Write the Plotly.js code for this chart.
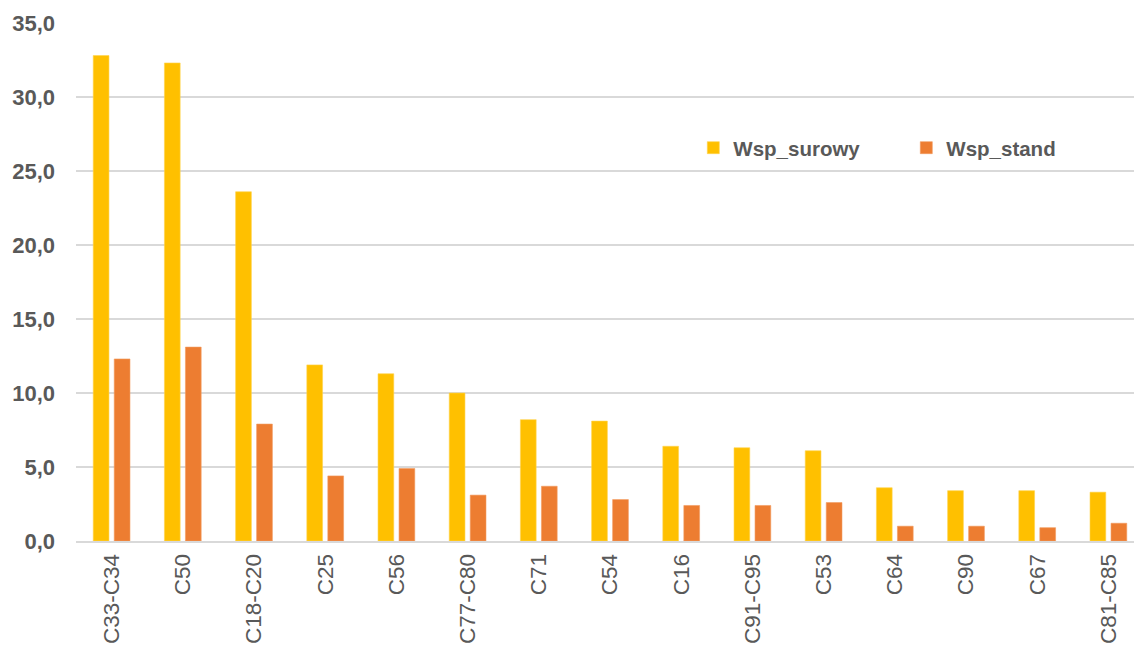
<!DOCTYPE html>
<html>
<head>
<meta charset="utf-8">
<script src="https://cdn.plot.ly/plotly-3.0.1.min.js"></script>
<style>
html,body{margin:0;padding:0;overflow:hidden;background:#fff;}
#chart{width:1144px;height:650px;}
</style>
</head>
<body>
<div id="chart"></div>
<script>
const categories = ["C33-C34","C50","C18-C20","C25","C56","C77-C80","C71","C54","C16","C91-C95","C53","C64","C90","C67","C81-C85"];
const wspSurowy = [32.8,32.3,23.6,11.9,11.3,10.0,8.2,8.1,6.4,6.3,6.1,3.6,3.4,3.4,3.3];
const wspStand  = [12.3,13.1,7.9,4.4,4.9,3.1,3.7,2.8,2.4,2.4,2.6,1.0,1.0,0.9,1.2];
const seriesNames = ["Wsp_surowy","Wsp_stand"];
const yTicks = [0,5,10,15,20,25,30,35];

const textColor = "#595959";
const traces = [
  {type:"bar", name:seriesNames[0], x:categories, y:wspSurowy,
   marker:{color:"#FFC000", line:{color:"#FFD34D", width:0.6}}},
  {type:"bar", name:seriesNames[1], x:categories, y:wspStand,
   marker:{color:"#ED7D31", line:{color:"#F29A5E", width:0.6}}}
];

const layout = {
  width:1144, height:650,
  margin:{l:76, r:0, t:23, b:109},
  paper_bgcolor:"#fff", plot_bgcolor:"#fff",
  font:{family:"Liberation Sans, Arial, sans-serif", color:textColor},
  barmode:"group", bargap:0.41, bargroupgap:0.25,
  showlegend:true,
  legend:{orientation:"h", x:0.578, xanchor:"left", y:0.759, yanchor:"middle",
          font:{size:20.5, color:textColor, family:"Liberation Sans, Arial, sans-serif", weight:"bold"},
          bgcolor:"rgba(255,255,255,0)", itemclick:false, entrywidth:168, entrywidthmode:"pixels"},
  xaxis:{type:"category", tickangle:-90, tickfont:{size:22.5, color:textColor},
         showline:true, linecolor:"#d9d9d9", linewidth:2, showgrid:false,
         ticks:"", ticklabelstandoff:2, fixedrange:true},
  yaxis:{range:[0,35], tickvals:yTicks, tickformat:".1f",
         tickfont:{size:22, color:textColor, weight:"bold"},
         showgrid:true, gridcolor:"#d9d9d9", gridwidth:1.6,
         zeroline:false, showline:false, ticks:"", ticklabelstandoff:20, fixedrange:true},
  separators:",."
};

Plotly.newPlot("chart", traces, layout, {displayModeBar:false, staticPlot:true});
</script>
</body>
</html>
